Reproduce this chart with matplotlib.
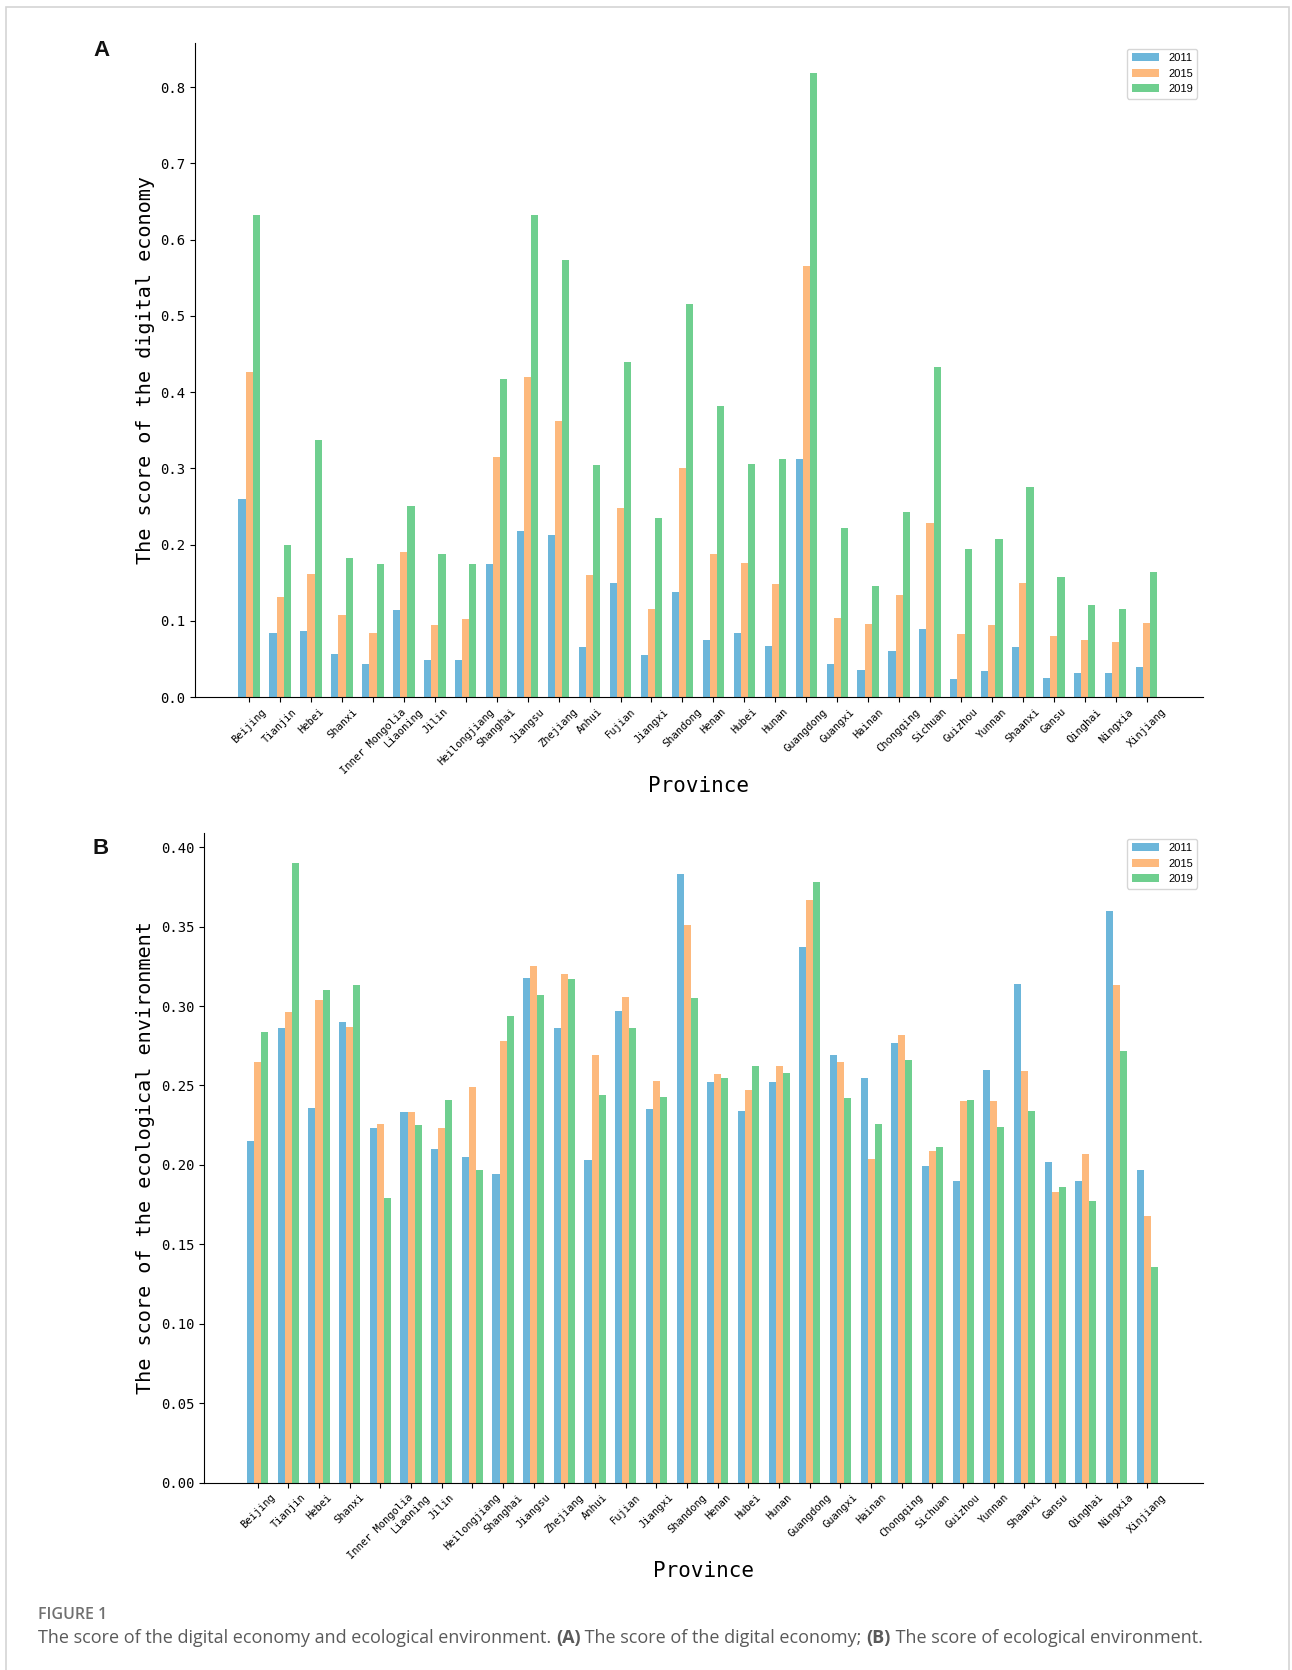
import matplotlib
matplotlib.use('Agg')
import matplotlib.pyplot as plt
from matplotlib.patches import Rectangle
import numpy as np

# Province names (x axis)
provinces = ['Beijing', 'Tianjin', 'Hebei', 'Shanxi', 'Inner Mongolia', 'Liaoning', 'Jilin',
             'Heilongjiang', 'Shanghai', 'Jiangsu', 'Zhejiang', 'Anhui', 'Fujian', 'Jiangxi',
             'Shandong', 'Henan', 'Hubei', 'Hunan', 'Guangdong', 'Guangxi', 'Hainan',
             'Chongqing', 'Sichuan', 'Guizhou', 'Yunnan', 'Shaanxi', 'Gansu', 'Qinghai',
             'Ningxia', 'Xinjiang']
years = ['2011', '2015', '2019']

# Panel A: score of the digital economy
digital_2011 = [0.260, 0.084, 0.087, 0.057, 0.043, 0.114, 0.048, 0.049, 0.175, 0.218,
                0.212, 0.065, 0.150, 0.055, 0.138, 0.075, 0.084, 0.067, 0.312, 0.043,
                0.036, 0.060, 0.089, 0.023, 0.034, 0.065, 0.025, 0.031, 0.032, 0.039]
digital_2015 = [0.427, 0.131, 0.162, 0.108, 0.084, 0.190, 0.095, 0.102, 0.315, 0.420,
                0.362, 0.160, 0.248, 0.116, 0.300, 0.187, 0.176, 0.148, 0.565, 0.104,
                0.096, 0.134, 0.228, 0.082, 0.095, 0.149, 0.080, 0.075, 0.072, 0.097]
digital_2019 = [0.633, 0.200, 0.337, 0.183, 0.175, 0.250, 0.188, 0.175, 0.417, 0.633,
                0.573, 0.304, 0.439, 0.235, 0.515, 0.382, 0.306, 0.312, 0.819, 0.222,
                0.145, 0.243, 0.433, 0.194, 0.207, 0.276, 0.157, 0.121, 0.116, 0.164]

# Panel B: score of the ecological environment
eco_2011 = [0.215, 0.286, 0.236, 0.290, 0.223, 0.233, 0.210, 0.205, 0.194, 0.318,
            0.286, 0.203, 0.297, 0.235, 0.383, 0.252, 0.234, 0.252, 0.337, 0.269,
            0.255, 0.277, 0.199, 0.190, 0.260, 0.314, 0.202, 0.190, 0.360, 0.197]
eco_2015 = [0.265, 0.296, 0.304, 0.287, 0.226, 0.233, 0.223, 0.249, 0.278, 0.325,
            0.320, 0.269, 0.306, 0.253, 0.351, 0.257, 0.247, 0.262, 0.367, 0.265,
            0.204, 0.282, 0.209, 0.240, 0.240, 0.259, 0.183, 0.207, 0.313, 0.168]
eco_2019 = [0.284, 0.390, 0.310, 0.313, 0.179, 0.225, 0.241, 0.197, 0.294, 0.307,
            0.317, 0.244, 0.286, 0.243, 0.305, 0.255, 0.262, 0.258, 0.378, 0.242,
            0.226, 0.266, 0.211, 0.241, 0.224, 0.234, 0.186, 0.177, 0.272, 0.136]

colors = ['#6cb6da', '#fdb97d', '#6fcf8f']
mono = 'DejaVu Sans Mono'

W, H = 1292, 1670
fig = plt.figure(figsize=(W / 100, H / 100), dpi=100)


def draw_panel(rect, series, ylabel, yticks, yfmt, ytop, label_x):
    ax = fig.add_axes(rect)
    x = np.arange(len(provinces))
    w = 0.23
    for i, (vals, year, c) in enumerate(zip(series, years, colors)):
        ax.bar(x + (i - 1) * w, vals, width=w, color=c, label=year)
    ax.set_xlim(-1.75, 30.82)
    ax.set_ylim(0, ytop)
    ax.set_xticks(x)
    ax.set_xticklabels(provinces, rotation=45, fontsize=7.5, family=mono)
    ax.set_yticks(yticks)
    ax.set_yticklabels([yfmt.format(v) for v in yticks], fontsize=10, family=mono)
    ax.spines['top'].set_visible(False)
    ax.spines['right'].set_visible(False)
    ax.set_ylabel(ylabel, fontsize=14.5, family=mono)
    ax.set_xlabel('Province', fontsize=15, family=mono)
    ax.yaxis.set_label_coords(label_x, 0.5)
    ax.xaxis.set_label_coords(0.5, -0.121)
    ax.legend(loc='upper right', handlelength=2.5,
              prop={'family': 'Liberation Sans', 'size': 8})
    return ax


draw_panel([195 / W, 1 - 697 / H, 1008 / W, 654 / H],
           [digital_2011, digital_2015, digital_2019],
           'The score of the digital economy',
           np.arange(0, 0.81, 0.1), '{:.1f}', 0.858, -0.040)

draw_panel([204 / W, 1 - 1482.5 / H, 999 / W, 649.5 / H],
           [eco_2011, eco_2015, eco_2019],
           'The score of the ecological environment',
           np.arange(0, 0.401, 0.05), '{:.2f}', 0.409, -0.049)

# Panel letters
fig.text(101 / W, 1 - 51 / H, 'A', fontsize=16, fontweight='bold',
         family='Liberation Sans', ha='center', va='center', color='#111111')
fig.text(101 / W, 1 - 848 / H, 'B', fontsize=16, fontweight='bold',
         family='Liberation Sans', ha='center', va='center', color='#111111')

# Light frame round the figure
fig.patches.append(Rectangle((6 / W, -0.05), (1289 - 6) / W, 1.05 - 7 / H,
                             transform=fig.transFigure, fill=False,
                             edgecolor='#d4d4d4', linewidth=1.2))

# Caption
fig.text(38 / W, 1 - 1615 / H, 'FIGURE 1', fontsize=11.5, fontweight='semibold',
         family='Open Sans', color='#707070', va='center')

pieces = [('The score of the digital economy and ecological environment. ', 'normal'),
          ('(A)', 'bold'),
          (' The score of the digital economy; ', 'normal'),
          ('(B)', 'bold'),
          (' The score of ecological environment.', 'normal')]
renderer = fig.canvas.get_renderer()
xpos = 38
for txt, wt in pieces:
    t = fig.text(xpos / W, 1 - 1638 / H, txt, fontsize=13, fontweight=wt,
                 family='Open Sans', color='#5a5a5a', va='center')
    xpos += t.get_window_extent(renderer).width

fig.savefig('out.png', dpi=100)
